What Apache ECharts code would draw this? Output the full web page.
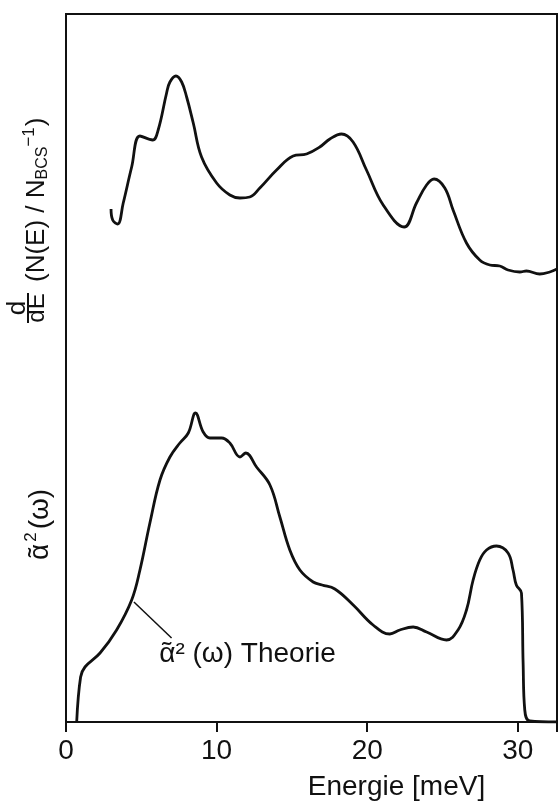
<!DOCTYPE html>
<html>
<head>
<meta charset="utf-8">
<script src="https://cdn.jsdelivr.net/npm/echarts@6/dist/echarts.min.js"></script>
<style>
  html, body { margin: 0; padding: 0; background: #fff; }
  #chart { width: 558px; height: 801px; }
</style>
</head>
<body>
<div id="chart"></div>
<script>
// energy axis (meV) and the two traced curves, heights in arbitrary units
const xTicks = [0, 10, 20, 30];

const topE = [2.99, 3.10, 3.43, 3.80, 4.36, 4.91, 5.75, 6.12, 6.68, 6.90, 7.30, 7.68, 8.01, 8.45, 9.00,
  10.00, 10.88, 11.55, 12.20, 12.87, 13.98, 15.08, 15.97, 16.85, 17.52, 18.29, 19.06, 19.95, 21.06,
  22.45, 23.27, 23.94, 24.44, 25.15, 25.70, 26.59, 27.47, 28.14, 28.80, 29.35, 30.13, 30.57, 31.45, 32.12, 32.6];
const topD = [513, 502, 498, 519, 555, 586, 582, 592, 629, 640, 646, 640, 625, 599, 565,
  539, 527, 524, 525, 534, 552, 566, 568, 575, 583, 588, 580, 552, 517,
  495, 519, 537, 543, 534, 512, 479, 462, 457, 456, 452, 450, 451, 448, 450, 453];

const botE = [0.71, 0.97, 1.26, 2.26, 3.36, 4.36, 4.91, 5.57, 6.24, 6.90, 7.56, 8.12, 8.60, 9.11, 9.56,
  10.33, 10.88, 11.55, 11.94, 12.65, 13.54, 14.20, 14.86, 15.53, 16.41, 17.0, 17.85, 19.07, 20.39,
  21.50, 22.16, 23.05, 23.94, 25.26, 26.03, 26.59, 27.03, 27.47, 27.92, 28.58, 29.35, 29.68, 29.90,
  30.24, 30.35, 30.46, 30.79, 32.6];
const botA = [0, 45, 55, 69, 92, 122, 152, 199, 242, 265, 279, 289, 309, 290, 284,
  284, 279, 265, 269, 255, 237, 205, 172, 152, 140, 137, 133, 117, 97,
  88, 92, 95, 90, 82, 92, 112, 142, 162, 172, 176, 169, 152, 137,
  129, 59, 12, 1, 0];

const ink = '#111';
const font = '"Liberation Sans", Arial, sans-serif';

const chart = echarts.init(document.getElementById('chart'));

function pairs(xs, ys) {
  return xs.map((x, i) => [x, ys[i]]);
}

// lay out rotated label pieces one after the other (sub/superscripts by offset)
const measureCtx = document.createElement('canvas').getContext('2d');
function textWidth(t, size) {
  measureCtx.font = size + 'px ' + font;
  return measureCtx.measureText(t).width;
}
function runText(pieces, startX) {
  let x = startX;
  return pieces.map(p => {
    const el = {
      type: 'text', x: x, y: p.dy,
      style: { text: p.t, fontFamily: font, fontSize: p.s, fill: ink, align: 'left', verticalAlign: 'middle' }
    };
    x += textWidth(p.t, p.s) + (p.gap || 0);
    return el;
  });
}

const option = {
  animation: false,
  grid: {
    left: 66, right: 1, top: 14, bottom: 79, outerBoundsMode: 'none',
    show: true, borderColor: ink, borderWidth: 2
  },
  xAxis: {
    type: 'value', min: 0, max: 32.6, interval: 10,
    axisLine: { lineStyle: { color: ink, width: 2 } },
    axisTick: { length: 10, lineStyle: { color: ink, width: 2 } },
    axisLabel: {
      color: ink, fontSize: 28, fontFamily: font, margin: 15,
      formatter: v => (xTicks.indexOf(v) >= 0 ? String(v) : '')
    },
    splitLine: { show: false },
    name: 'Energie [meV]', nameLocation: 'middle', nameGap: 51,
    nameTextStyle: { color: ink, fontSize: 28, fontFamily: font, padding: [0, 0, 0, 170] }
  },
  yAxis: {
    type: 'value', min: 0, max: 708,
    axisLine: { show: true, lineStyle: { color: ink, width: 2 } },
    axisTick: { show: false }, axisLabel: { show: false }, splitLine: { show: false }
  },
  series: [
    {
      type: 'line', data: pairs(topE, topD), smooth: 0.4,
      showSymbol: false, lineStyle: { color: ink, width: 2.8 }
    },
    {
      type: 'line', data: pairs(botE, botA), smooth: 0.4,
      showSymbol: false, lineStyle: { color: ink, width: 2.8 },
      markLine: {
        silent: true, symbol: 'none', label: { show: false },
        lineStyle: { color: ink, width: 1.5, type: 'solid' },
        data: [[{ coord: [4.51, 120] }, { coord: [7.01, 84] }]]
      },
      markPoint: {
        silent: true, symbol: 'circle', symbolSize: 0,
        data: [{ coord: [6.19, 68] }],
        label: {
          show: true, position: 'right', distance: 0, color: ink,
          fontFamily: font, fontSize: 28, formatter: 'ᾶ² (ω) Theorie'
        }
      }
    }
  ],
  graphic: [
    {
      type: 'group', x: 37, y: 325, rotation: Math.PI / 2,
      children: [
        { type: 'text', x: 17, y: -19, style: { text: 'd', fontFamily: font, fontSize: 26, fill: ink, align: 'center', verticalAlign: 'middle' } },
        { type: 'line', shape: { x1: 2, y1: -9, x2: 32, y2: -9 }, style: { stroke: ink, lineWidth: 2 } },
        { type: 'text', x: 17, y: 0, style: { text: 'dE', fontFamily: font, fontSize: 24, fill: ink, align: 'center', verticalAlign: 'middle' } }
      ].concat(runText([
        { t: '(N(E) / N', s: 26, dy: 0 },
        { t: 'BCS', s: 16, dy: 6 },
        { t: '−1', s: 17, dy: -8, gap: 1 },
        { t: ')', s: 26, dy: 0 }
      ], 43))
    },
    {
      type: 'group', x: 40, y: 560, rotation: Math.PI / 2,
      children: runText([
        { t: 'ᾶ', s: 28, dy: 0, gap: 2 },
        { t: '2', s: 17, dy: -9, gap: 3 },
        { t: '(ω)', s: 28, dy: 0 }
      ], 0)
    }
  ]
};

chart.setOption(option);
</script>
</body>
</html>
